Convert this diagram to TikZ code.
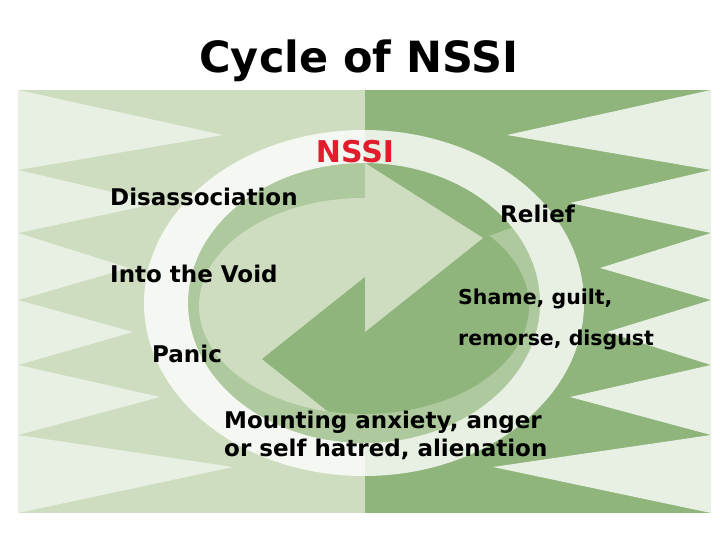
\documentclass[tikz,border=0pt]{standalone}
\usepackage{fontspec}
\setmainfont{DejaVu Sans}
\usetikzlibrary{positioning}
\definecolor{lightbg}{RGB}{206,221,192}
\definecolor{darkbg}{RGB}{143,180,124}
\definecolor{paletri}{RGB}{232,240,227}
\definecolor{bandgreen}{RGB}{174,201,157}
\definecolor{nssired}{RGB}{225,28,44}

\begin{document}
\begin{tikzpicture}[x=1bp, y=-1bp,
            every node/.style={inner sep=0pt, anchor=base west},
            stagetext/.style={font=\fontsize{23bp}{28bp}\selectfont\bfseries},
            smalltext/.style={font=\fontsize{20.5bp}{25bp}\selectfont\bfseries},
            tri/.style={fill=paletri}]
    \useasboundingbox (0,0) rectangle (720,540);
    \fill[lightbg] (18,90) rectangle (365,513);
    \fill[darkbg] (365,90) rectangle (711,513);
    \foreach \ya/\yb/\xl/\xr/\yc in {90/135/223/507/170, 170/203/159/570/233,
            233/268/129/600/300, 300/332/133/607/365, 365/397/160/570/435, 435/467/233/493/513}{
        \fill[tri] (18,\ya) -- (\xl,\yb) -- (18,\yc) -- cycle;
        \fill[tri] (711,\ya) -- (\xr,\yb) -- (711,\yc) -- cycle;
    }
    % left half of the wheel
    \begin{scope}
        \clip (364,303) ellipse [x radius=176bp, y radius=140bp];
        \clip (0,0) rectangle (365,540);
        \fill[bandgreen] (0,0) rectangle (365,540);
        \fill[lightbg] (364,306) ellipse [x radius=165bp, y radius=108bp];
        \clip (364,306) ellipse [x radius=165bp, y radius=108bp];
        \fill[darkbg] (262,359) -- (365,277) -- (365,441) -- cycle;
    \end{scope}
    % right half of the wheel
    \begin{scope}
        \clip (364,303) ellipse [x radius=176bp, y radius=140bp];
        \clip (365,0) rectangle (720,540);
        \fill[bandgreen] (365,0) rectangle (720,540);
        \fill[darkbg] (364,306) ellipse [x radius=165bp, y radius=108bp];
        \fill[darkbg] (365,100) -- (365,163) -- (483,238) -- (560,210) -- (560,100) -- cycle;
        \fill[lightbg] (365,163) -- (483,238) -- (365,332) -- cycle;
    \end{scope}
    \fill[white, fill opacity=.8, even odd rule]
        (364,303) ellipse [x radius=220bp, y radius=173bp]
        (364,303) ellipse [x radius=176bp, y radius=140bp];

    \node[anchor=base, font=\fontsize{43bp}{50bp}\selectfont\bfseries] (title) at (359,73) {Cycle of NSSI};
    \node[anchor=base, text=nssired, font=\fontsize{30bp}{36bp}\selectfont\bfseries] (nssi) at (355,163) {NSSI};
    \node[stagetext] (dissoc) at (110,206) {Disassociation};
    \node[stagetext] (void) at (110,283) {Into the Void};
    \node[stagetext] (panic) at (152,362) {Panic};
    \node[stagetext] (relief) at (500,223) {Relief};
    \node[smalltext] (shame) at (458,304) {Shame, guilt,};
    \node[smalltext] (remorse) at (458,345) {remorse, disgust};
    \node[stagetext] (mount) at (224,428) {Mounting anxiety, anger};
    \node[stagetext] (hatred) at (224,456) {or self hatred, alienation};
\end{tikzpicture}
\end{document}
